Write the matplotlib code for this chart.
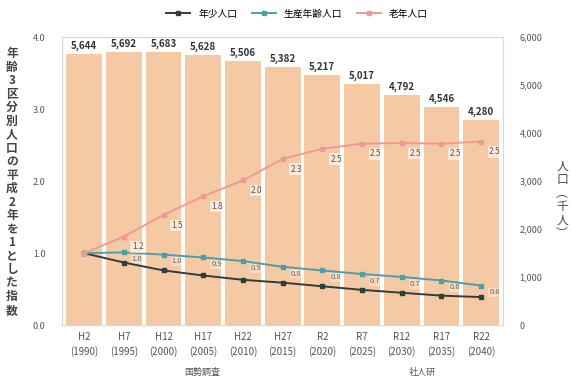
import numpy as np
import matplotlib.pyplot as plt

plt.rcParams['font.family'] = ['Noto Sans CJK JP', 'DejaVu Sans']

years = ['H2\n(1990)', 'H7\n(1995)', 'H12\n(2000)', 'H17\n(2005)', 'H22\n(2010)', 'H27\n(2015)',
         'R2\n(2020)', 'R7\n(2025)', 'R12\n(2030)', 'R17\n(2035)', 'R22\n(2040)']
total = [5644, 5692, 5683, 5628, 5506, 5382, 5217, 5017, 4792, 4546, 4280]   # 千人
young = [1.0, 0.87, 0.76, 0.69, 0.63, 0.59, 0.54, 0.49, 0.45, 0.41, 0.39]
work = [1.0, 1.01, 0.98, 0.94, 0.89, 0.81, 0.76, 0.71, 0.67, 0.62, 0.55]
old = [1.0, 1.23, 1.53, 1.79, 2.01, 2.31, 2.45, 2.52, 2.53, 2.52, 2.55]
names = ['年少人口', '生産年齢人口', '老年人口']
colors = ['#2f3d3d', '#4a9fa8', '#ee9a94']
left_title = '年齢3区分別人口の平成2年を1とした指数'
right_title = '人口︵千人︶'

x = np.arange(len(years))

fig = plt.figure(figsize=(5.71, 3.83), dpi=100)
ax = fig.add_axes([0.109, 0.151, 0.772, 0.752])
ax2 = ax.twinx()   # lines on top of bars

# bars: population on the right-hand scale
ax.bar(x, total, width=0.9, color='#f6c9a5', edgecolor='none', zorder=1)
ax.set_ylim(0, 6000)
ax.set_xlim(-0.55, len(years) - 0.45)
ax.yaxis.tick_right()
ax.set_yticks(np.arange(0, 6001, 1000))
ax.set_yticklabels([f'{v:,}' for v in range(0, 6001, 1000)])
for xi, v in zip(x, total):
    ax.text(xi, v + 60, f'{v:,}', ha='center', va='bottom', fontsize=7,
            fontweight='bold', color='#333333')

ax.set_xticks(x)
ax.set_xticklabels(years, fontsize=7, color='#555555', linespacing=1.5)
ax.tick_params(axis='x', length=0, pad=5)
ax.tick_params(axis='y', labelsize=6.5, colors='#555555', length=0, pad=12)

# lines: index (1990 = 1) on the left-hand scale
ax2.yaxis.tick_left()
ax2.set_ylim(0, 4)
ax2.set_yticks(np.arange(0, 4.01, 1.0))
ax2.set_yticklabels([f'{v:.1f}' for v in np.arange(0, 4.01, 1.0)])
ax2.tick_params(axis='y', labelsize=6.5, colors='#555555', length=0, pad=12)

for vals, c, n in zip([young, work, old], colors, names):
    ax2.plot(x, vals, color=c, lw=1.4, marker='s', ms=2.5, label=n, zorder=3)

for i in range(1, len(x)):
    ax2.text(x[i] + 0.2, old[i] - 0.08, f'{old[i]:.1f}', fontsize=6, color='#555555',
             ha='left', va='top', zorder=4,
             bbox=dict(boxstyle='square,pad=0.15', fc='white', ec='none', alpha=0.6))
for i in range(1, len(x)):
    ax2.text(x[i] + 0.2, work[i] - 0.04, f'{work[i]:.1f}', fontsize=5.5, color='#666666',
             ha='left', va='top', zorder=2,
             bbox=dict(boxstyle='square,pad=0.1', fc='white', ec='none', alpha=0.35))

for a in (ax, ax2):
    for s in a.spines.values():
        s.set_color('#d9d9d9')
        s.set_linewidth(0.8)

# vertical (upright) axis titles
fig.text(12 / 571, 1 - 182 / 383, '\n'.join(left_title), fontsize=8.5, color='#444444',
         ha='center', va='center', linespacing=1.05, fontweight='bold')
fig.text(562 / 571, 1 - 200 / 383, '\n'.join(right_title), fontsize=8.5, color='#444444',
         ha='center', va='center', linespacing=1.05)

fig.legend(loc='upper center', bbox_to_anchor=(0.52, 1.0), ncol=3, frameon=False,
           fontsize=7, handlelength=2.5, columnspacing=1.5)

fig.text(202 / 571, 1 - 372 / 383, '国勢調査', fontsize=6.5, color='#555555', ha='center', va='center')
fig.text(422 / 571, 1 - 372 / 383, '社人研', fontsize=6.5, color='#555555', ha='center', va='center')

fig.savefig('out.png', dpi=100)
